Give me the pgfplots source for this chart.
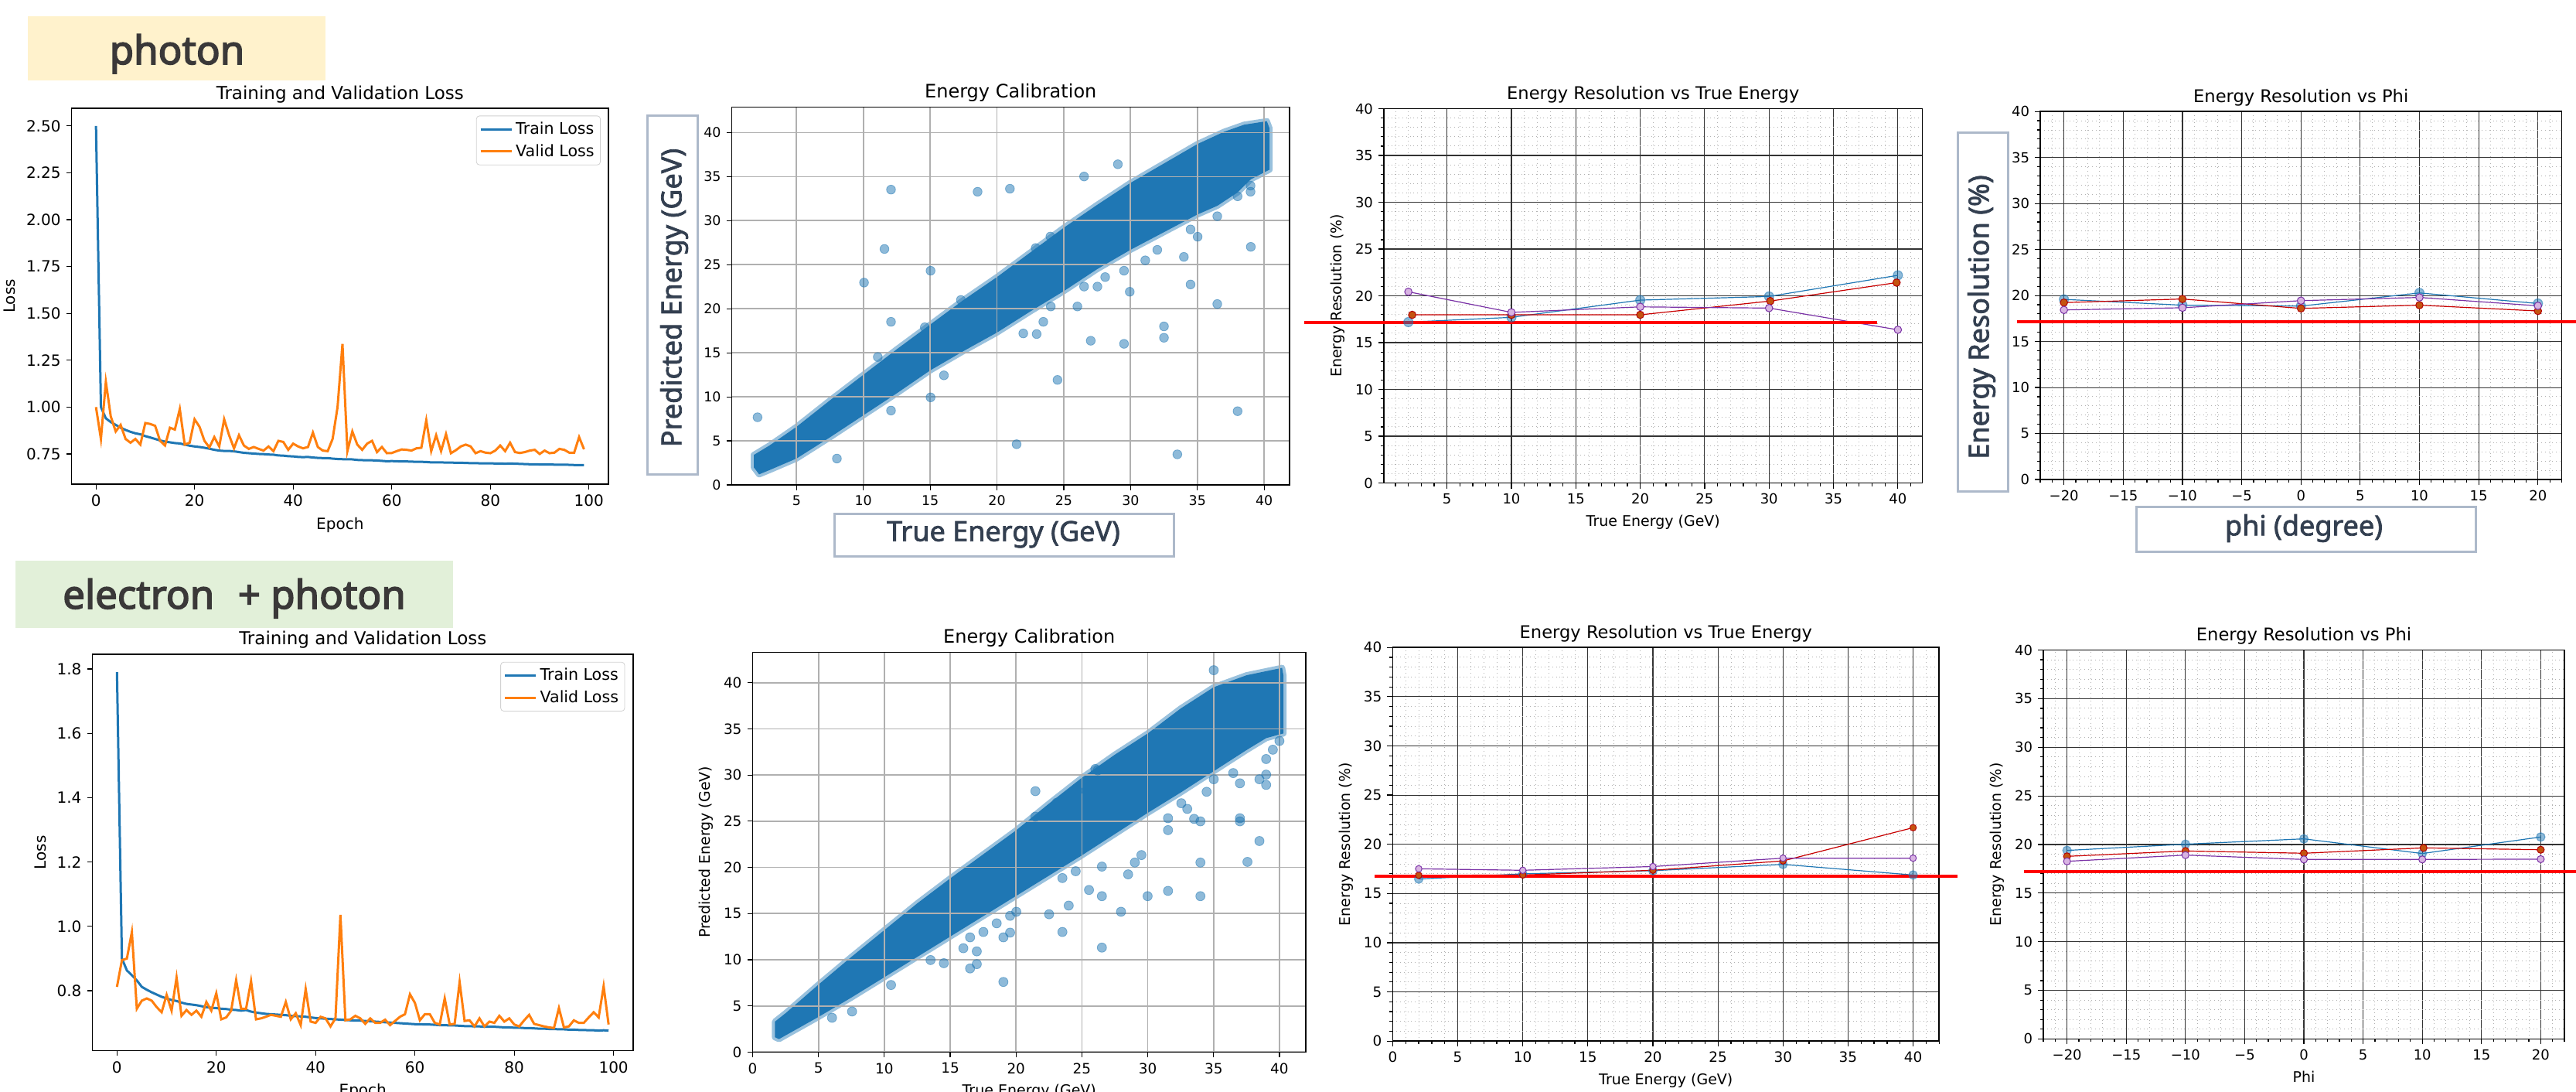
\documentclass[border=0pt]{standalone}
\usepackage{fontspec}
\setmainfont{DejaVu Sans}
\newfontfamily\ovfont{Noto Sans}[FakeBold=2]
\newfontfamily\secfont{Noto Sans}[FakeBold=3]
\usepackage{pgfplots}
\usepackage{pgfplotstable}
\pgfplotsset{compat=1.18}
\definecolor{c0}{HTML}{1F77B4}
\definecolor{c1}{HTML}{FF7F0E}
\definecolor{ovtext}{HTML}{333F50}
\definecolor{ovborder}{HTML}{ADB9CA}
\definecolor{ybox}{HTML}{FFF2CC}
\definecolor{gbox}{HTML}{E2F0D9}
\definecolor{sectext}{HTML}{3A3838}
\definecolor{redline}{HTML}{C80000}
\definecolor{redfill}{HTML}{C45410}
\definecolor{rededge}{HTML}{B40000}
\definecolor{purpfill}{HTML}{D8B4E2}
\definecolor{purpedge}{HTML}{7A32A6}
\definecolor{gridgray}{HTML}{B0B0B0}

\pgfplotsset{
  every axis title shift=0pt,
  base/.style={scale only axis, anchor=south west,
    axis line style={line width=0.8pt},
    tick align=outside, tick pos=left,
    major tick length=3.5pt, minor tick length=2pt,
    tick style={black, line width=0.6pt},
    /pgf/number format/assume math mode=true,
    tick label style={font=\fontsize{9.5}{11}\selectfont},
    label style={font=\fontsize{9.5}{11}\selectfont},
    title style={font=\fontsize{11.5}{13}\selectfont}},
  lossax/.style={xmin=-4.95, xmax=103.95, xtick={0,20,40,60,80,100},
    tick label style={font=\fontsize{10}{12}\selectfont},
    label style={font=\fontsize{10}{12}\selectfont},
    legend cell align=left,
    legend image code/.code={\draw[##1] (0pt,0pt) -- (20pt,0pt);},
    legend style={draw=black!18, rounded corners=2pt, fill=white,
      font=\fontsize{10.3}{12}\selectfont, inner sep=2pt, row sep=1pt}},
  calib/.style={grid=major, major grid style={gridgray, line width=0.9pt},
    axis on top, ymin=0, ytick={0,5,10,15,20,25,30,35,40},
    title style={font=\fontsize{12}{14}\selectfont}},
  res/.style={grid=both, clip=false,
    major grid style={black!80, line width=0.55pt},
    minor grid style={black!30, dotted, line width=0.45pt},
    ymin=0, ymax=40, ytick={0,5,10,15,20,25,30,35,40},
    minor ytick={0,1,...,40},
    title style={font=\fontsize{11.3}{13}\selectfont}},
  bl/.style={c0, line width=0.6pt, mark=*, mark size=#1,
    mark options={fill=c0, draw=c0, opacity=0.5}},
  rd/.style={redline, line width=0.6pt, mark=*, mark size=#1,
    mark options={fill=redfill, draw=rededge, line width=0.5pt}},
  pp/.style={purpedge, line width=0.6pt, mark=*, mark size=#1,
    mark options={fill=purpfill, draw=purpedge, line width=0.5pt}},
  annot/.style={red, line width=2pt, forget plot},
}

\pgfplotstableread{
ep tr va
0 2.50 1.000
1 1.00 0.830
2 0.940 1.135
3 0.920 0.950
4 0.905 0.870
5 0.890 0.905
6 0.878 0.830
7 0.868 0.810
8 0.860 0.830
9 0.855 0.800
10 0.845 0.915
11 0.838 0.910
12 0.830 0.900
13 0.822 0.820
14 0.816 0.795
15 0.812 0.890
16 0.808 0.880
17 0.806 0.990
18 0.800 0.800
19 0.794 0.810
20 0.790 0.935
21 0.787 0.895
22 0.783 0.820
23 0.778 0.785
24 0.772 0.840
25 0.768 0.790
26 0.766 0.935
27 0.766 0.850
28 0.764 0.780
29 0.760 0.850
30 0.756 0.795
31 0.754 0.777
32 0.752 0.787
33 0.750 0.777
34 0.749 0.768
35 0.747 0.790
36 0.746 0.765
37 0.742 0.820
38 0.741 0.814
39 0.738 0.772
40 0.737 0.805
41 0.734 0.790
42 0.733 0.780
43 0.734 0.787
44 0.731 0.864
45 0.729 0.787
46 0.728 0.768
47 0.728 0.765
48 0.725 0.830
49 0.723 1.000
50 0.722 1.337
51 0.722 0.765
52 0.721 0.870
53 0.718 0.800
54 0.717 0.772
55 0.716 0.805
56 0.716 0.820
57 0.715 0.760
58 0.713 0.787
59 0.711 0.754
60 0.712 0.755
61 0.711 0.765
62 0.710 0.774
63 0.710 0.772
64 0.709 0.768
65 0.708 0.780
66 0.708 0.783
67 0.707 0.930
68 0.705 0.765
69 0.705 0.850
70 0.705 0.765
71 0.704 0.856
72 0.704 0.754
73 0.703 0.770
74 0.703 0.790
75 0.702 0.800
76 0.701 0.790
77 0.701 0.754
78 0.700 0.765
79 0.700 0.757
80 0.700 0.754
81 0.699 0.768
82 0.699 0.795
83 0.698 0.765
84 0.699 0.810
85 0.698 0.760
86 0.697 0.755
87 0.696 0.760
88 0.695 0.768
89 0.695 0.772
90 0.694 0.750
91 0.694 0.768
92 0.694 0.754
93 0.693 0.757
94 0.693 0.777
95 0.693 0.772
96 0.692 0.757
97 0.691 0.757
98 0.691 0.840
99 0.691 0.775
}\photonloss

\pgfplotstableread{
ep tr va
0 1.790 0.812
1 0.900 0.895
2 0.863 0.900
3 0.848 0.982
4 0.832 0.744
5 0.812 0.769
6 0.803 0.776
7 0.795 0.769
8 0.788 0.749
9 0.781 0.733
10 0.776 0.787
11 0.771 0.738
12 0.768 0.841
13 0.763 0.722
14 0.759 0.740
15 0.757 0.725
16 0.755 0.738
17 0.752 0.719
18 0.749 0.765
19 0.747 0.738
20 0.746 0.792
21 0.744 0.711
22 0.743 0.717
23 0.741 0.738
24 0.740 0.833
25 0.738 0.744
26 0.740 0.744
27 0.735 0.830
28 0.732 0.711
29 0.730 0.714
30 0.728 0.719
31 0.727 0.725
32 0.726 0.722
33 0.725 0.719
34 0.724 0.765
35 0.722 0.711
36 0.721 0.730
37 0.720 0.693
38 0.719 0.805
39 0.717 0.704
40 0.715 0.700
41 0.714 0.719
42 0.713 0.714
43 0.712 0.689
44 0.711 0.714
45 0.710 1.036
46 0.709 0.708
47 0.708 0.711
48 0.707 0.722
49 0.707 0.714
50 0.706 0.697
51 0.705 0.714
52 0.704 0.700
53 0.703 0.700
54 0.702 0.710
55 0.701 0.693
56 0.700 0.706
57 0.699 0.719
58 0.698 0.727
59 0.697 0.789
60 0.696 0.762
61 0.696 0.708
62 0.695 0.727
63 0.695 0.727
64 0.694 0.700
65 0.693 0.695
66 0.693 0.776
67 0.692 0.695
68 0.692 0.697
69 0.691 0.827
70 0.690 0.706
71 0.690 0.708
72 0.689 0.689
73 0.689 0.714
74 0.688 0.689
75 0.688 0.704
76 0.688 0.700
77 0.687 0.722
78 0.686 0.704
79 0.686 0.714
80 0.685 0.695
81 0.685 0.689
82 0.684 0.708
83 0.684 0.725
84 0.683 0.697
85 0.682 0.693
86 0.682 0.689
87 0.681 0.686
88 0.681 0.684
89 0.680 0.746
90 0.680 0.686
91 0.679 0.689
92 0.679 0.708
93 0.678 0.700
94 0.678 0.700
95 0.677 0.717
96 0.677 0.733
97 0.676 0.717
98 0.677 0.814
99 0.676 0.695
}\mixloss

\begin{document}
\begin{tikzpicture}
\useasboundingbox (0pt,0pt) rectangle (1666pt,-706pt);
\fill[white] (0pt,0pt) rectangle (1666pt,-706pt);

% ---------------- Row 1 ----------------
\begin{axis}[base, lossax, at={(46.3pt,-313pt)}, width=347.2pt, height=243pt,
  ymin=0.589, ymax=2.594, ytick={0.75,1,1.25,1.5,1.75,2,2.25,2.5},
  yticklabel style={/pgf/number format/.cd, fixed, fixed zerofill, precision=2},
  title={Training and Validation Loss}, xlabel={Epoch}, ylabel={Loss},
  legend style={at={(1,1)}, anchor=north east, xshift=-5pt, yshift=-4.75pt}]
\addplot[c0, line width=1.5pt] table[x=ep, y=tr] {\photonloss};
\addplot[c1, line width=1.5pt] table[x=ep, y=va] {\photonloss};
\legend{Train Loss, Valid Loss}
\end{axis}

\begin{axis}[base, calib, at={(473.25pt,-313.5pt)}, width=360.75pt, height=244.25pt,
  xmin=0.15, xmax=41.9, ymax=42.9, xtick={5,10,15,20,25,30,35,40},
  tick label style={font=\fontsize{8.7}{10}\selectfont},
  title={Energy Calibration}]
\addplot[fill=c0, draw=c0, draw opacity=0.45, line width=4pt, line join=round] coordinates {
(1.8,2.0)(1.8,3.4)(3,4.5)(5,6.6)(7.5,9.6)(10,12.5)(12.5,15.4)(15,18.2)(17.5,21.0)(20,23.6)(22.5,26.4)(25,29.2)(27.5,31.8)(30,34.3)(32.5,36.5)(35,38.7)(37,40.1)(38.5,40.9)(40.2,41.3)
(40.4,40.5)(40.4,35.8)
(39,34.7)(38,33.2)(36.5,31.7)(35,30.7)(32.5,28.7)(30,26.7)(27.5,24.5)(25,22.0)(22.5,19.7)(20,17.3)(17.5,15.2)(15,13.0)(12.5,10.4)(10,7.9)(7.5,5.4)(5,3.0)(3,1.7)(2.2,1.2)
} -- cycle;
\addplot[only marks, mark=*, mark size=2.9pt, mark options={fill=c0, draw=c0, opacity=0.5}] coordinates {
(12.07,33.53)(18.55,33.29)(20.97,33.63)(29.05,36.41)(26.52,35.02)(11.58,26.79)(15.03,24.32)(10.05,22.97)(12.07,18.52)(11.08,14.52)(16.03,12.44)(15.03,9.94)(12.07,8.44)(2.08,7.68)(8.02,2.99)(21.47,4.62)(33.5,3.47)(38.01,8.37)(36.49,20.54)(39.0,27.03)(34.49,22.76)(33.99,25.89)(35.02,28.18)(34.49,29.01)(36.49,30.51)(32.5,18.0)(32.5,16.71)(29.51,16.02)(27.02,16.37)(24.53,11.92)(26.02,20.26)(24.03,20.26)(21.97,17.2)(22.97,17.13)(23.47,18.52)(29.94,21.93)(29.51,24.32)(26.52,22.52)(27.52,22.52)(32.0,26.69)(38.98,33.98)(38.98,33.29)(38.01,32.77)(24,28.2)(22.9,26.9)(17.3,21.0)(14.6,17.9)(28.1,23.6)(31.1,25.5)
};
\end{axis}

\begin{axis}[base, res, at={(895pt,-312.25pt)}, width=348.25pt, height=242pt,
  xmin=0.1, xmax=41.9, xtick={5,10,15,20,25,30,35,40}, minor xtick={1,2,...,41},
  tick label style={font=\fontsize{9}{10}\selectfont},
  title={Energy Resolution vs True Energy}, xlabel={True Energy (GeV)}, ylabel={Energy Resolution (\%)}]
\addplot[bl=3pt] coordinates {(2,17.19)(10,17.7)(20,19.54)(30,19.93)(40,22.19)};
\addplot[rd=2.4pt] coordinates {(2.3,17.97)(10,17.97)(20,17.97)(30.1,19.44)(39.9,21.41)};
\addplot[pp=2.4pt] coordinates {(2,20.43)(10,18.23)(20,18.82)(30,18.69)(40,16.37)};
\addplot[annot] coordinates {(-6.11,17.18)(38.39,17.18)};
\end{axis}

\begin{axis}[base, res, at={(1319.5pt,-310pt)}, width=337.2pt, height=237.9pt,
  xmin=-22, xmax=22, xtick={-20,-15,-10,-5,0,5,10,15,20},
  xticklabels={−20,−15,−10,−5,0,5,10,15,20}, minor xtick={-22,-21,...,22},
  tick label style={font=\fontsize{9}{10}\selectfont},
  title={Energy Resolution vs Phi}]
\addplot[bl=3pt] coordinates {(-20,19.58)(-10,18.95)(0,18.85)(10,20.28)(20,19.13)};
\addplot[rd=2.4pt] coordinates {(-20,19.23)(-10,19.62)(0,18.6)(10,18.95)(20,18.32)};
\addplot[pp=2.4pt] coordinates {(-20,18.43)(-10,18.67)(0,19.44)(10,19.79)(20,18.88)};
\addplot[annot] coordinates {(-23.96,17.13)(23.21,17.13)};
\end{axis}

% ---------------- Row 2 ----------------
\begin{axis}[base, lossax, at={(59.75pt,-679.2pt)}, width=349.75pt, height=256.3pt,
  ymin=0.614, ymax=1.846, ytick={0.8,1.0,1.2,1.4,1.6,1.8},
  yticklabel style={/pgf/number format/.cd, fixed, fixed zerofill, precision=1},
  title={Training and Validation Loss}, xlabel={Epoch}, ylabel={Loss},
  legend style={at={(1,1)}, anchor=north east, xshift=-5.3pt, yshift=-5pt}]
\addplot[c0, line width=1.5pt] table[x=ep, y=tr] {\mixloss};
\addplot[c1, line width=1.5pt] table[x=ep, y=va] {\mixloss};
\legend{Train Loss, Valid Loss}
\end{axis}

\begin{axis}[base, calib, at={(486.75pt,-680.15pt)}, width=357.75pt, height=258.5pt,
  xmin=0, xmax=42, ymax=43.3, xtick={0,5,10,15,20,25,30,35,40},
  tick label style={font=\fontsize{9.2}{10}\selectfont},
  title={Energy Calibration}, xlabel={True Energy (GeV)}, ylabel={Predicted Energy (GeV)}]
\addplot[fill=c0, draw=c0, draw opacity=0.45, line width=4pt, line join=round] coordinates {
(1.7,1.6)(1.7,3.3)(2.5,4.2)(5,7.3)(7.5,10.3)(10,13.2)(12.5,16.1)(15,18.8)(17.5,21.4)(20,24.0)(22.5,26.9)(25,29.7)(27.5,32.2)(30,34.5)(32.5,37.2)(35,39.5)(37.5,40.8)(40.2,41.6)
(40.3,40.8)(40.3,34.5)
(39,34.0)(37.5,32.7)(35,30.4)(32.5,28.1)(30,25.9)(27.5,23.6)(25,21.3)(22.5,19.1)(20,16.9)(17.5,14.7)(15,12.5)(12.5,10.3)(10,8.1)(7.5,5.9)(5,3.8)(3,2.2)(2,1.4)
} -- cycle;
\addplot[only marks, mark=*, mark size=3pt, mark options={fill=c0, draw=c0, opacity=0.5}] coordinates {
(35.01,41.35)(21.47,28.25)(26.02,30.65)(21.47,25.49)(31.54,25.32)(31.54,24.03)(37.0,25.32)(37.0,24.98)(38.48,22.85)(37.57,20.59)(34.0,20.52)(34.0,24.98)(33.52,25.25)(33.0,26.33)(32.55,26.94)(34.47,28.18)(35.01,29.54)(36.49,30.21)(37.0,29.1)(38.48,29.54)(38.99,28.93)(38.99,30.04)(38.99,31.73)(39.5,32.74)(40.0,33.69)(31.54,17.45)(34.0,16.88)(29.99,16.88)(27.97,15.19)(28.51,19.24)(29.02,20.52)(29.52,21.33)(26.52,20.08)(26.52,16.88)(25.54,17.55)(26.52,11.31)(23.52,13.0)(24.0,15.86)(22.51,14.92)(20.02,15.19)(19.55,14.75)(19.55,12.93)(19.04,12.42)(19.04,7.59)(17.02,10.9)(16.51,12.42)(16.0,11.24)(16.51,9.05)(17.02,9.52)(17.52,13.0)(18.53,13.94)(14.52,9.62)(13.51,9.96)(10.51,7.26)(7.55,4.39)(6.03,3.71)(23.52,18.84)(24.53,19.58)(24.7,28.3)(26.2,30.5)(23.1,27.0)
};
\end{axis}

\begin{axis}[base, res, at={(900.7pt,-673.1pt)}, width=353.4pt, height=254.5pt,
  xmin=0, xmax=42, xtick={0,5,10,15,20,25,30,35,40}, minor xtick={0,1,...,42},
  tick label style={font=\fontsize{9.2}{10}\selectfont},
  title={Energy Resolution vs True Energy}, xlabel={True Energy (GeV)}, ylabel={Energy Resolution (\%)}]
\addplot[bl=2.8pt] coordinates {(2,16.47)(10,17.0)(20,17.32)(30,17.96)(40,16.88)};
\addplot[rd=2.1pt] coordinates {(2,16.85)(10,16.88)(20,17.36)(30,18.31)(40,21.69)};
\addplot[pp=2.1pt] coordinates {(2,17.51)(10,17.36)(20,17.74)(30,18.59)(40,18.59)};
\addplot[annot] coordinates {(-1.39,16.72)(43.41,16.72)};
\end{axis}

\begin{axis}[base, res, at={(1321.5pt,-671.7pt)}, width=337pt, height=251.45pt,
  xmin=-22, xmax=22, xtick={-20,-15,-10,-5,0,5,10,15,20},
  xticklabels={−20,−15,−10,−5,0,5,10,15,20}, minor xtick={-22,-21,...,22},
  tick label style={font=\fontsize{9}{10}\selectfont},
  title={Energy Resolution vs Phi}, xlabel={Phi}, ylabel={Energy Resolution (\%)}]
\addplot[bl=2.8pt] coordinates {(-20,19.39)(-10,20.03)(0,20.58)(10,19.07)(20,20.77)};
\addplot[rd=2.3pt] coordinates {(-20,18.78)(-10,19.33)(0,19.1)(10.1,19.65)(20,19.46)};
\addplot[pp=2.3pt] coordinates {(-20,18.27)(-10,18.91)(0,18.46)(10,18.46)(20,18.49)};
\addplot[annot] coordinates {(-23.63,17.18)(22.98,17.18)};
\end{axis}

% ---------------- slide overlays ----------------
\begin{scope}[x=0.5pt, y=-0.5pt]
\fill[ybox] (36,21) rectangle (421,104);
\node[anchor=base, text=sectext, font=\secfont\fontsize{25.5}{28}\selectfont] at (229,83) {photon};
\fill[gbox] (20,725) rectangle (586,812);
\node[anchor=base, text=sectext, font=\secfont\fontsize{25.5}{28}\selectfont] at (303,787) {electron\hspace{0.6em}+ photon};

\draw[ovborder, line width=1.5pt, fill=white] (837,150) rectangle (902,613);
\node[rotate=90, text=ovtext, font=\ovfont\fontsize{18}{20}\selectfont] at (872,385) {Predicted Energy (GeV)};
\draw[ovborder, line width=1.5pt, fill=white] (1079,664) rectangle (1518,719);
\node[text=ovtext, font=\ovfont\fontsize{18}{20}\selectfont] at (1298,691) {True Energy (GeV)};
\draw[ovborder, line width=1.5pt, fill=white] (2532,172) rectangle (2597,635);
\node[rotate=90, text=ovtext, font=\ovfont\fontsize{18}{20}\selectfont] at (2563,410) {Energy Resolution (\%)};
\draw[ovborder, line width=1.5pt, fill=white] (2763,655) rectangle (3202,713);
\node[text=ovtext, font=\ovfont\fontsize{18}{20}\selectfont] at (2980,683) {phi (degree)};
\end{scope}
\end{tikzpicture}
\end{document}
